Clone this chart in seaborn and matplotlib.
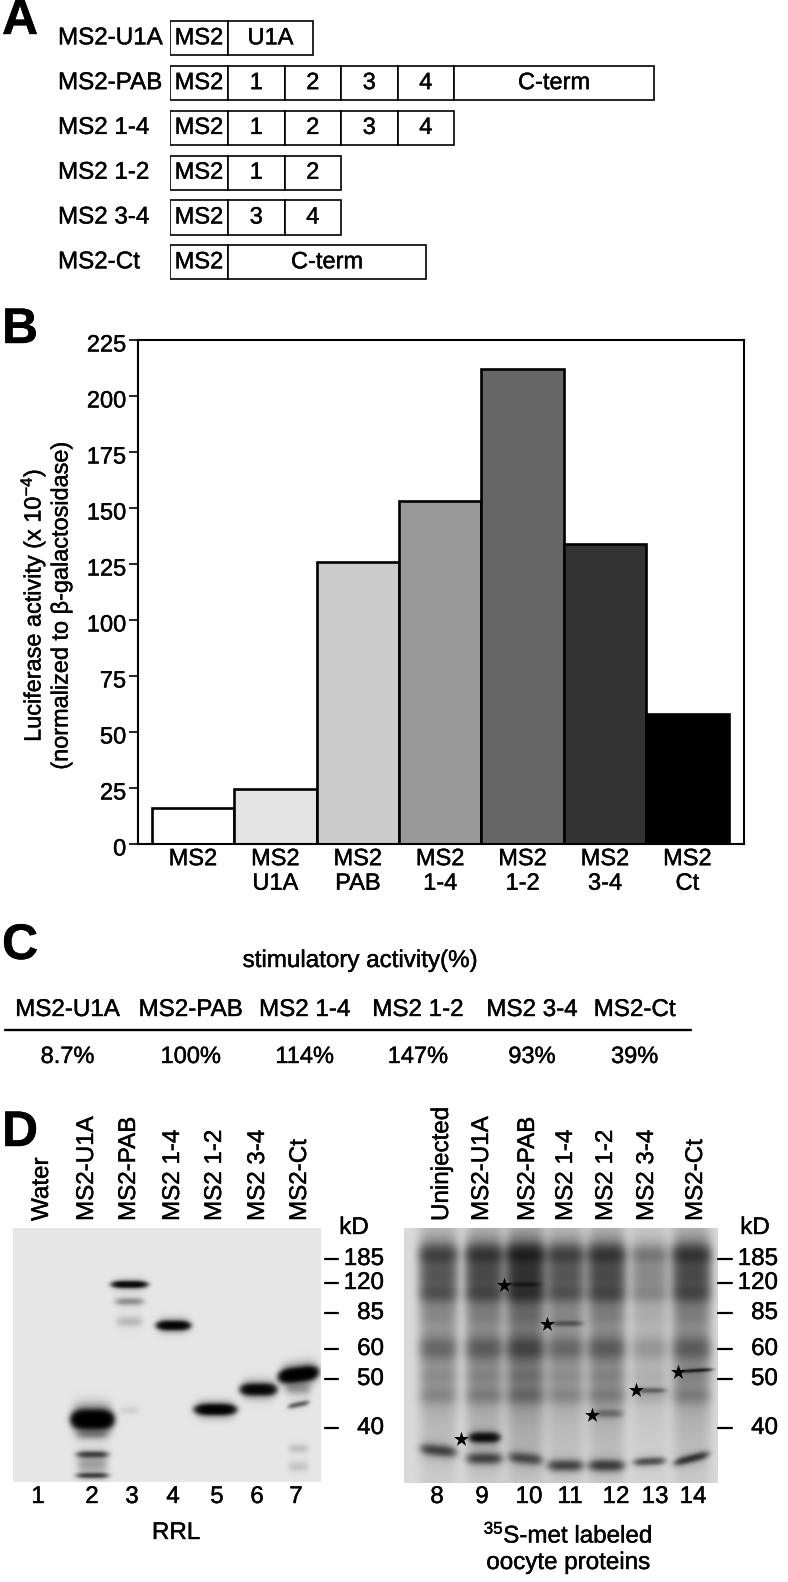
import numpy as np
import pandas as pd
import matplotlib
matplotlib.use('Agg')
import matplotlib.pyplot as plt
import matplotlib.patheffects as pe
from matplotlib.text import Text
from matplotlib.transforms import ScaledTranslation
import seaborn as sns

# Panel A constructs (segment names and lengths)
construct_names = ['MS2-U1A', 'MS2-PAB', 'MS2 1-4', 'MS2 1-2', 'MS2 3-4', 'MS2-Ct']
construct_parts = [['MS2', 'U1A'],
                   ['MS2', '1', '2', '3', '4', 'C-term'],
                   ['MS2', '1', '2', '3', '4'],
                   ['MS2', '1', '2'],
                   ['MS2', '3', '4'],
                   ['MS2', 'C-term']]
construct_lengths = [[58, 85],
                     [58, 56.5, 56.5, 56.5, 56.5, 200],
                     [58, 56.5, 56.5, 56.5, 56.5],
                     [58, 56.5, 56.5],
                     [58, 56.5, 56.5],
                     [58, 198]]

# Panel B
bar_names = ['MS2', 'MS2\nU1A', 'MS2\nPAB', 'MS2\n1-4', 'MS2\n1-2', 'MS2\n3-4', 'MS2\nCt']
bar_values = [16, 24.5, 126, 153, 212, 134, 58]
bar_colors = ['#ffffff', '#e3e3e3', '#cbcbcb', '#999999', '#666666', '#333333', '#000000']
y_ticks = [0, 25, 50, 75, 100, 125, 150, 175, 200, 225]

# Panel C
stim_names = ['MS2-U1A', 'MS2-PAB', 'MS2 1-4', 'MS2 1-2', 'MS2 3-4', 'MS2-Ct']
stim_values = ['8.7%', '100%', '114%', '147%', '93%', '39%']
stim_x = [67.6, 190.8, 304.7, 418, 532, 634.7]

# Panel D, RRL gel: lane x, row y, density, half height, half width, slant
rrl_bands = [
    (79, 191, 6.0, 6.5, 18, 0), (79, 226, 1.0, 3.0, 15, 0), (79, 247, 1.0, 2.5, 15, 0),
    (79, 236, 0.3, 8, 15, 0), (79, 206, 0.3, 4, 15, 0),
    (116, 56, 2.6, 2.7, 16, 0), (116, 73, 0.4, 3.5, 14, 0), (116, 93, 0.18, 5, 13, 0),
    (116, 182, 0.08, 4, 10, 0),
    (160, 97, 3.2, 3.5, 15, 0),
    (202, 181, 3.8, 4, 18, 0),
    (245, 161, 3.2, 4.5, 16, 0),
    (285, 146, 5.0, 5, 17, -0.12), (285, 176, 0.7, 2.5, 10, -0.2), (285, 220, 0.15, 4, 10, 0),
    (285, 238, 0.13, 5, 10, 0), (285, 160, 0.3, 6, 12, 0),
]
rrl_lane_labels = ['Water', 'MS2-U1A', 'MS2-PAB', 'MS2 1-4', 'MS2 1-2', 'MS2 3-4', 'MS2-Ct']
rrl_label_x = [42, 87, 129, 173, 215, 258, 300]
rrl_number_x = [38, 92, 132, 173, 217, 257, 296]

# Panel D, oocyte gel
oocyte_lanes = [34, 80, 121, 161, 202, 245, 287]
oocyte_gain = [0.85, 1.0, 1.35, 0.85, 1.0, 0.42, 1.0]
oocyte_common = [(26, 0.75, 10), (47, 0.25, 10), (65, 0.45, 9), (45, 0.42, 30), (88, 0.1, 9), (120, 0.45, 12),
                 (148, 0.15, 9), (167, 0.25, 9), (115, 0.28, 105)]
oocyte_bands = [
    (34, 222, 0.9, 5, 17, 0.1), (80, 230, 0.9, 5, 17, 0), (121, 230, 0.8, 5, 16, 0.1),
    (161, 237, 0.9, 5, 17, 0), (202, 237, 1.0, 5, 17, 0), (245, 233, 0.8, 3.5, 15, -0.05),
    (287, 230, 1.1, 3.5, 16, -0.25),
    (80, 209, 2.2, 4, 14, 0), (121, 56, 0.7, 2, 15, 0), (163, 95, 0.5, 2.5, 15, 0),
    (204, 185, 0.4, 4, 14, 0), (247, 162, 0.5, 2.5, 14, 0), (292, 142, 1.2, 1.5, 15, -0.06),
]
oocyte_lane_labels = ['Uninjected', 'MS2-U1A', 'MS2-PAB', 'MS2 1-4', 'MS2 1-2', 'MS2 3-4', 'MS2-Ct']
oocyte_label_x = [442, 482, 528, 566, 606, 647, 696]
oocyte_number_x = [437, 482, 529, 570, 616, 655, 693]
oocyte_numbers = ['8', '9', '10', '11', '12', '13', '14']
star_x = [57, 100, 143, 188, 232, 274]
star_y = [211, 57, 96, 187, 162, 144]

kd_labels = ['185', '120', '85', '60', '50', '40']
kd_rows = [1259, 1283, 1313, 1349, 1379, 1428]

FS = 17.4
W, H = 788, 1582

sns.set_theme(style='white')
plt.rcParams['font.family'] = ['Liberation Sans', 'DejaVu Sans']
plt.rcParams['mathtext.default'] = 'regular'
plt.rcParams['mathtext.fontset'] = 'custom'
plt.rcParams['mathtext.rm'] = 'Liberation Sans'

fig = plt.figure(figsize=(W / 100, H / 100), dpi=100)


def px_axes(left, top, right, bottom):
    return fig.add_axes([left / W, 1 - bottom / H, (right - left) / W, (bottom - top) / H])


def gel_image(shape, bands, bg):
    rows, cols = np.mgrid[0:shape[0], 0:shape[1]]
    density = np.zeros(shape)
    for cx, cy, amp, hh, hw, slant in bands:
        across = np.exp(-np.abs((cols - cx) / hw) ** 4)
        offset = rows - cy - slant * (cols - cx)
        # sharp core plus a soft halo around each band
        down = np.exp(-(offset / hh) ** 2) + 0.18 * np.exp(-(offset / (hh * 2)) ** 2)
        density += amp * across * down
    return bg * np.exp(-density)


# overlay for all the free text
over = fig.add_axes([0, 0, 1, 1], zorder=5)
over.set_xlim(0, W)
over.set_ylim(H, 0)
over.axis('off')

for letter, y in zip('ABCD', [21, 330, 946, 1133]):
    over.text(2, y, letter, fontsize=36, fontweight='bold', va='center', ha='left', color='black')

# ========== A ==========
ax_a = px_axes(170, 19.5, 660, 288.3)
ax_a.set_xlim(0, 490)
ax_a.set_ylim(5.58, -0.42)
ax_a.axis('off')
for i, (parts, lengths) in enumerate(zip(construct_parts, construct_lengths)):
    left = 0
    for part, length in zip(parts, lengths):
        ax_a.barh(i, length, left=left, height=0.76, color='white', edgecolor='black', linewidth=1.2)
        ax_a.text(left + length / 2, i, part, ha='center', va='center', fontsize=FS - 0.4)
        left += length
    over.text(58, ax_a.transData.transform((0, i))[1] * -1 + H, construct_names[i],
              ha='left', va='center', fontsize=FS)

# ========== B ==========
ax_b = px_axes(138, 340, 744, 844)
df = pd.DataFrame({'name': bar_names, 'value': bar_values})
sns.barplot(data=df, x='name', y='value', hue='name', palette=bar_colors, legend=False,
            width=1.0, edgecolor='black', linewidth=1.9, saturation=1, ax=ax_b)
ax_b.set_xlim(-0.667, 6.687)
ax_b.set_ylim(0, 225)
ax_b.set_yticks(y_ticks)
ax_b.set_xlabel('')
ax_b.set_ylabel('Luciferase activity (x 10$^{-4}$)\n(normalized to β-galactosidase)', fontsize=FS - 0.5, linespacing=1.1)
ax_b.yaxis.set_label_coords(-0.108, 0.474)
ax_b.tick_params(axis='y', left=True, length=6.5, width=1.2, labelsize=FS - 0.4, pad=2, color='black')
ax_b.tick_params(axis='x', bottom=False, labelsize=FS - 0.4, pad=-3)
for lab in ax_b.get_xticklabels():
    lab.set_linespacing(1.15)
nudge = ScaledTranslation(0, -3 / 100, fig.dpi_scale_trans)
for lab in ax_b.get_yticklabels():
    lab.set_transform(lab.get_transform() + nudge)
for s in ax_b.spines.values():
    s.set_visible(True)
    s.set_color('black')
    s.set_linewidth(1.5)

# ========== C ==========
over.text(360, 961, 'stimulatory activity(%)', ha='center', va='center', fontsize=FS)
for x, name in zip(stim_x, stim_names):
    over.text(x, 1010, name, ha='center', va='center', fontsize=FS)
for x, val in zip(stim_x, stim_values):
    over.text(x, 1057, val, ha='center', va='center', fontsize=FS - 0.4)
over.plot([5, 691], [1030, 1030], color='black', lw=1.7)

# ========== D ==========
ax_g1 = px_axes(13, 1228, 321, 1482)
sns.heatmap(gel_image((254, 308), rrl_bands, 0.90), cmap='gray', vmin=0, vmax=1, cbar=False,
            xticklabels=False, yticklabels=False, ax=ax_g1)

oocyte_all = list(oocyte_bands)
for lane, gain in zip(oocyte_lanes, oocyte_gain):
    for cy, amp, hh in oocyte_common:
        oocyte_all.append((lane, cy, amp * gain, hh, 19, 0))
ax_g2 = px_axes(404, 1228, 718, 1483)
sns.heatmap(gel_image((255, 314), oocyte_all, 0.85), cmap='gray', vmin=0, vmax=1, cbar=False,
            xticklabels=False, yticklabels=False, ax=ax_g2)
sns.scatterplot(x=star_x, y=star_y, marker='*', s=130, color='black', linewidth=0, ax=ax_g2, zorder=4)

for labels, xs in [(rrl_lane_labels, rrl_label_x), (oocyte_lane_labels, oocyte_label_x)]:
    for lab, x in zip(labels, xs):
        over.text(x, 1221, lab, rotation=90, ha='center', va='bottom', fontsize=FS)

for x, n in zip(rrl_number_x, range(1, 8)):
    over.text(x, 1497, str(n), ha='center', va='center', fontsize=FS)
for x, n in zip(oocyte_number_x, oocyte_numbers):
    over.text(x, 1497, n, ha='center', va='center', fontsize=FS)
over.text(176, 1533, 'RRL', ha='center', va='center', fontsize=FS)
over.text(568, 1535, '$^{35}$S-met labeled', ha='center', va='center', fontsize=FS)
over.text(568, 1563, 'oocyte proteins', ha='center', va='center', fontsize=FS)

over.text(354, 1228, 'kD', ha='center', va='center', fontsize=FS)
over.text(755, 1228, 'kD', ha='center', va='center', fontsize=FS)
for lab, y in zip(kd_labels, kd_rows):
    over.plot([325, 338], [y, y], color='black', lw=1.6)
    over.text(384, y, lab, ha='right', va='center', fontsize=FS)
    over.plot([718, 732], [y, y], color='black', lw=1.6)
    over.text(778, y, lab, ha='right', va='center', fontsize=FS)

# the scan's type is a bit heavier than the plain font
for t in fig.findobj(Text):
    if t.get_text():
        t.set_color('black')
        t.set_path_effects([pe.withStroke(linewidth=0.3, foreground='black')])

fig.savefig('out.png', dpi=100)
